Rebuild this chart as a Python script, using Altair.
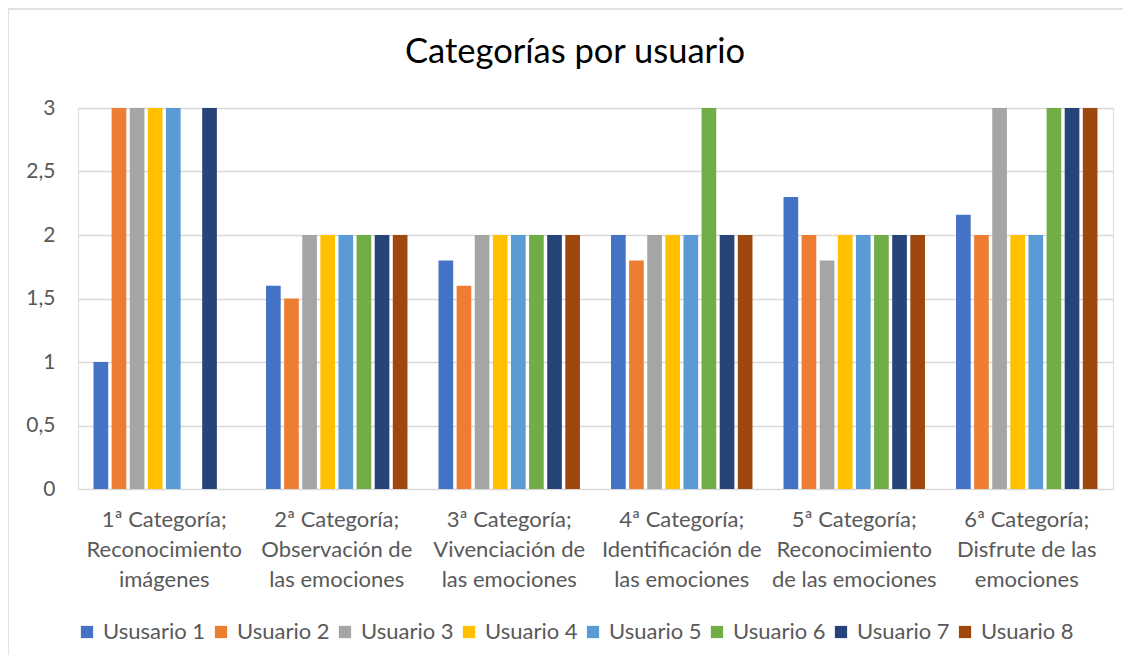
import altair as alt
import pandas as pd

categories = [
    "1ª Categoría;|Reconocimiento|imágenes",
    "2ª Categoría;|Observación de|las emociones",
    "3ª Categoría;|Vivenciación de|las emociones",
    "4ª Categoría;|Identificación de|las emociones",
    "5ª Categoría;|Reconocimiento|de las emociones",
    "6ª Categoría;|Disfrute de las|emociones",
]
series = ["Ususario 1", "Usuario 2", "Usuario 3", "Usuario 4",
          "Usuario 5", "Usuario 6", "Usuario 7", "Usuario 8"]
colors = ["#4472C4", "#ED7D31", "#A5A5A5", "#FFC000",
          "#5B9BD5", "#70AD47", "#264478", "#9E480E"]
title_text = ["Categorías por usuario"]

u1 = [1, 1.6, 1.8, 2, 2.3, 2.16]
u2 = [3, 1.5, 1.6, 1.8, 2, 2]
u3 = [3, 2, 2, 2, 1.8, 3]
u4 = [3, 2, 2, 2, 2, 2]
u5 = [3, 2, 2, 2, 2, 2]
u6 = [None, 2, 2, 3, 2, 3]
u7 = [3, 2, 2, 2, 2, 3]
u8 = [None, 2, 2, 2, 2, 3]
values = [u1, u2, u3, u4, u5, u6, u7, u8]

rows = []
for s, vals in zip(series, values):
    for c, v in zip(categories, vals):
        if v is not None:
            rows.append({"cat": c, "serie": s, "valor": v})
df = pd.DataFrame(rows)

FONT = "Lato"
W, H = 1035, 381

frame = alt.Chart(pd.DataFrame({"a": [0]})).mark_rect(
    fill=None, fillOpacity=0, stroke="#d9d9d9", strokeWidth=1.5
).encode(
    x=alt.value(-70), x2=alt.value(1100),
    y=alt.value(-99), y2=alt.value(553)
)

title = alt.Chart(pd.DataFrame({"t": title_text})).mark_text(
    font=FONT, fontSize=34.5, color="#000000", align="center", baseline="middle"
).encode(
    text="t:N", x=alt.value(497), y=alt.value(-55)
)

bars = alt.Chart(df).mark_bar().encode(
    x=alt.X("cat:N", sort=categories,
            scale=alt.Scale(paddingInner=0.18, paddingOuter=0.09),
            axis=alt.Axis(title=None, labelAngle=0, domain=False, ticks=False,
                          labelExpr="split(datum.label, '|')",
                          labelFont=FONT, labelFontSize=22, labelColor="#595959",
                          labelPadding=20, labelLineHeight=30,
                          labelBaseline="top")),
    xOffset=alt.XOffset("serie:N", sort=series,
                        scale=alt.Scale(paddingInner=0.19, paddingOuter=0.0)),
    y=alt.Y("valor:Q", scale=alt.Scale(domain=[0, 3], nice=False),
            axis=alt.Axis(title=None, values=[0, 0.5, 1, 1.5, 2, 2.5, 3],
                          labelExpr="replace(format(datum.value, ''), '.', ',')",
                          domain=False, ticks=False, labelPadding=23,
                          gridColor="#d9d9d9", gridWidth=1.5,
                          labelFont=FONT, labelFontSize=21, labelColor="#595959")),
    color=alt.Color("serie:N", sort=series,
                    scale=alt.Scale(domain=series, range=colors),
                    legend=alt.Legend(title=None, orient="none",
                                      legendX=-2, legendY=132 + H,
                                      direction="horizontal", columns=8,
                                      symbolType="square", symbolSize=150,
                                      symbolStrokeWidth=0,
                                      labelFont=FONT, labelFontSize=22,
                                      labelColor="#595959", columnPadding=4,
                                      labelOffset=5)),
)

chart = alt.layer(frame, title, bars).properties(
    width=W, height=H,
    autosize=alt.AutoSizeParams(type="none"),
    padding={"left": 70, "top": 100, "right": 10, "bottom": 166},
).configure_view(stroke=None).configure(background="white")

chart.save("out.html", embed_options={"renderer": "svg", "actions": False})
